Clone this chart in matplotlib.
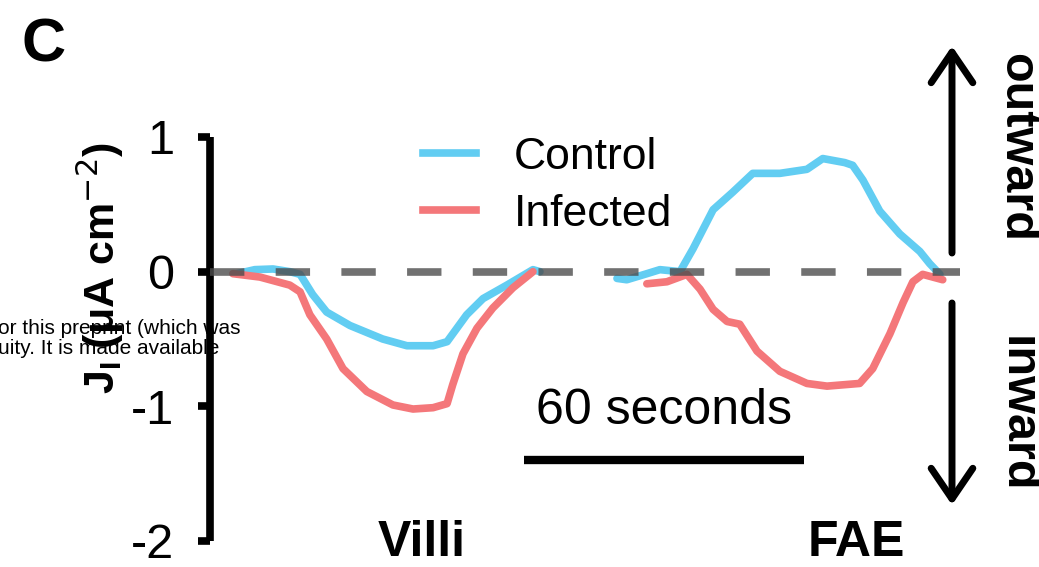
#!/usr/bin/env python3

# Ion current density traces over villi and follicle-associated epithelium,
# control versus infected tissue.

import matplotlib
matplotlib.use('Agg')
import matplotlib.pyplot

FONT = 'Liberation Sans'
BLUE = '#62cdf2'
RED = '#f4777a'

# Time (s) and current density (uA cm^-2).
CONTROL_VILLI_T = [5.4, 9.2, 13.1, 16.7, 18.9, 21.6, 24.6, 29.6, 36.6, 41.8, 47.4, 50.4, 54.6, 58.1, 63.2, 68.8, 70.3]
CONTROL_VILLI = [-0.015, 0.015, 0.02, 0.0, -0.02, -0.17, -0.30, -0.40, -0.50, -0.55, -0.55, -0.52, -0.32, -0.20, -0.10, 0.015, 0.0]

INFECTED_VILLI_T = [4.5, 10.3, 16.7, 18.9, 21.0, 24.6, 28.1, 33.2, 38.8, 43.1, 47.4, 50.4, 51.6, 53.8, 56.8, 60.2, 64.5, 68.8]
INFECTED_VILLI = [-0.015, -0.04, -0.10, -0.15, -0.32, -0.50, -0.72, -0.89, -0.99, -1.02, -1.01, -0.98, -0.84, -0.61, -0.42, -0.27, -0.12, 0.0]

CONTROL_FAE_T = [86.8, 88.9, 93.2, 96.0, 100.3, 103.1, 107.4, 111.6, 115.9, 121.7, 127.5, 130.9, 135.6, 137.3, 139.5, 143.1, 147.4, 151.7, 153.8, 156.0]
CONTROL_FAE = [-0.05, -0.06, -0.015, 0.015, 0.0, 0.17, 0.46, 0.59, 0.73, 0.73, 0.76, 0.84, 0.81, 0.79, 0.68, 0.45, 0.28, 0.15, 0.06, -0.02]

INFECTED_FAE_T = [93.2, 97.5, 101.8, 104.6, 107.4, 110.4, 113.1, 116.8, 121.7, 127.5, 131.8, 138.8, 141.6, 145.3, 148.1, 150.2, 152.3, 156.6]
INFECTED_FAE = [-0.09, -0.075, -0.02, -0.13, -0.28, -0.37, -0.39, -0.59, -0.74, -0.83, -0.85, -0.83, -0.72, -0.46, -0.23, -0.075, -0.02, -0.06]

Y_TICKS = [-2, -1, 0, 1]
SCALE_BAR = [66.9, 126.9]
SCALE_BAR_LEVEL = -1.40

WIDTH, HEIGHT = 1039, 567

def px(x, y):
    # Pixel position (from the top left) to figure fraction.
    return x / WIDTH, 1.0 - y / HEIGHT

def main():
    matplotlib.pyplot.rcParams['font.family'] = [FONT, 'DejaVu Sans']
    matplotlib.pyplot.rcParams['axes.unicode_minus'] = False

    figure = matplotlib.pyplot.figure(figsize = (WIDTH / 100, HEIGHT / 100), dpi = 100)
    left, bottom = px(210, 541)
    right, top = px(960, 137)
    axis = figure.add_axes([left, bottom, right - left, top - bottom])
    axis.patch.set_alpha(0)

    for t, v in [(CONTROL_VILLI_T, CONTROL_VILLI), (CONTROL_FAE_T, CONTROL_FAE)]:
        axis.plot(t, v, color = BLUE, lw = 5.5, solid_capstyle = 'round', zorder = 2)
    for t, v in [(INFECTED_VILLI_T, INFECTED_VILLI), (INFECTED_FAE_T, INFECTED_FAE)]:
        axis.plot(t, v, color = RED, lw = 5.5, solid_capstyle = 'round', zorder = 2)

    axis.axhline(0, color = '#4d4d4d', alpha = 0.8, lw = 5.5, dashes = (4.5, 4.1), zorder = 3)

    axis.set_xlim(-0.4, 160.3)
    axis.set_ylim(-2, 1)
    axis.set_yticks(Y_TICKS, [str(tick) for tick in Y_TICKS])
    axis.tick_params(axis = 'y', direction = 'out', length = 8.6, width = 5.5, pad = 17, labelsize = 35)
    axis.get_xaxis().set_visible(False)
    for side in ['top', 'right', 'bottom']:
        axis.spines[side].set_visible(False)
    axis.spines['left'].set_linewidth(5.5)
    axis.spines['left'].set_capstyle('butt')

    # Legend, drawn from the same colours as the traces.
    handles = [matplotlib.lines.Line2D([], [], color = BLUE, lw = 5.5),
               matplotlib.lines.Line2D([], [], color = RED, lw = 5.5)]
    figure.legend(handles, ['Control', 'Infected'], loc = 'upper left',
        bbox_to_anchor = px(423, 137), frameon = False, fontsize = 32,
        handlelength = 1.2, handletextpad = 0.85, labelspacing = 0.36,
        borderpad = 0, borderaxespad = 0)

    # 60 s scale bar.
    axis.plot(SCALE_BAR, [SCALE_BAR_LEVEL, SCALE_BAR_LEVEL], color = 'black', lw = 6,
        solid_capstyle = 'butt', clip_on = False)
    axis.text(sum(SCALE_BAR) / 2, -1.13, '60 seconds', ha = 'center', va = 'baseline', fontsize = 36)

    axis.text(45, -2.11, 'Villi', ha = 'center', va = 'baseline', fontsize = 36, fontweight = 'bold')
    axis.text(138, -2.11, 'FAE', ha = 'center', va = 'baseline', fontsize = 36, fontweight = 'bold')

    figure.text(*px(100, 268), r'J$_\mathregular{I}$ (μA cm$^{-2}$)', rotation = 90,
        ha = 'center', va = 'center', fontsize = 31, fontweight = 'bold')

    figure.text(*px(44, 46), 'C', ha = 'center', va = 'center', fontsize = 44, fontweight = 'bold')

    # Direction arrows on the right.
    arrow = dict(arrowstyle = '->,head_length=22,head_width=15', lw = 5, color = 'black',
        mutation_scale = 1, shrinkA = 0, shrinkB = 0)
    axis.annotate('', xy = (952, HEIGHT - 46), xytext = (952, HEIGHT - 253),
        xycoords = 'figure pixels', textcoords = 'figure pixels', arrowprops = arrow, annotation_clip = False)
    axis.annotate('', xy = (952, HEIGHT - 505), xytext = (952, HEIGHT - 303),
        xycoords = 'figure pixels', textcoords = 'figure pixels', arrowprops = arrow, annotation_clip = False)
    figure.text(*px(1017, 147), 'outward', rotation = 270, ha = 'center', va = 'center',
        fontsize = 35, fontweight = 'bold')
    figure.text(*px(1017, 414), 'inward', rotation = 270, ha = 'center', va = 'center',
        fontsize = 35, fontweight = 'bold')

    # Text bleeding in from the page underneath.
    figure.text(*px(-2, 329), 'or this preprint (which was', ha = 'left', va = 'center', fontsize = 15)
    figure.text(*px(-2, 349), 'uity. It is made available', ha = 'left', va = 'center', fontsize = 15)

    figure.savefig('out.png', dpi = 100)

if (__name__ == '__main__'):
    main()
